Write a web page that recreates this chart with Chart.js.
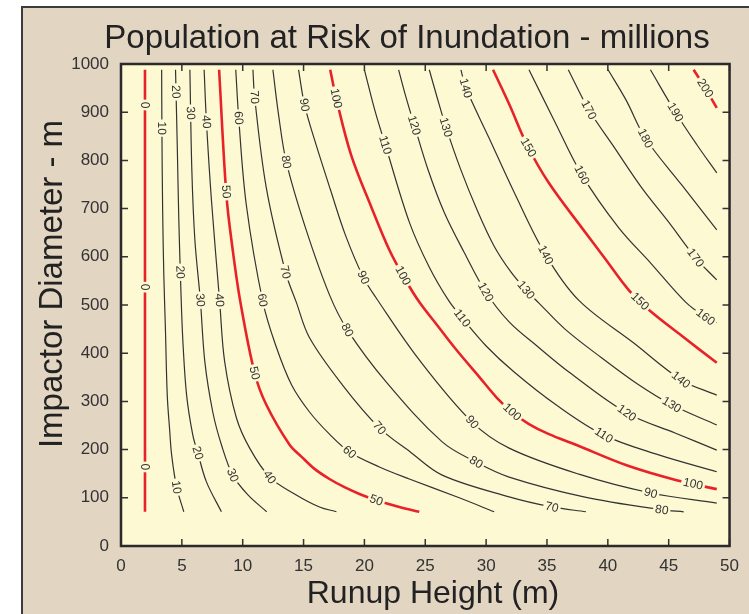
<!DOCTYPE html>
<html>
<head>
<meta charset="utf-8">
<title>Population at Risk of Inundation</title>
<script src="https://cdn.jsdelivr.net/npm/chart.js@4.4.1/dist/chart.umd.min.js"></script>
<style>
  html, body { margin: 0; padding: 0; background: #fff; overflow: hidden; }
  #frame { position: absolute; left: 21px; top: 6px; width: 760px; height: 640px;
           background: #e2d5c2; border-left: 2px solid #3c3c3c; border-top: 2px solid #3c3c3c; }
  #chart { position: absolute; left: 0; top: 0; }
</style>
</head>
<body>
<div id="frame"></div>
<canvas id="chart" width="749" height="614"></canvas>
<script>
  // contour levels, millions of people
  const levels = [0, 10, 20, 30, 40, 50, 60, 70, 80, 90, 100, 110, 120, 130, 140, 150, 160, 170, 180, 190, 200];

  // each contour as [runup height m, impactor diameter m]
  const line0 = [[1.97, 988], [1.97, 71]];
  const line10 = [[3.34, 988], [3.36, 870], [3.42, 700], [3.52, 560], [3.65, 450], [3.80, 313], [4.0, 240], [4.16, 189], [4.57, 122], [5.16, 71]];
  const line20 = [[4.48, 988], [4.63, 822], [4.75, 677], [4.92, 531], [5.08, 427], [5.39, 313], [5.90, 230], [6.31, 193], [7.02, 133], [8.25, 71]];
  const line30 = [[5.66, 988], [5.82, 780], [6.07, 635], [6.52, 510], [6.89, 382], [7.54, 278], [8.25, 210], [9.18, 147], [10.43, 106], [11.97, 71]];
  const line40 = [[6.83, 988], [7.02, 880], [7.43, 718], [8.11, 506], [8.52, 382], [9.48, 266], [10.57, 203], [12.21, 143], [14.40, 106], [16.31, 81], [17.70, 71]];
  const line50 = [[8.06, 988], [8.66, 728], [9.18, 614], [9.81, 506], [10.98, 359], [11.94, 293], [13.85, 210], [14.84, 185], [15.90, 160], [17.13, 139], [18.36, 122], [19.59, 108], [20.98, 95], [22.87, 81], [24.51, 71]];
  const line60 = [[9.43, 988], [9.67, 888], [10.30, 707], [11.66, 506], [12.70, 417], [14.02, 334], [15.49, 278], [17.13, 232], [18.77, 195], [21.23, 164], [23.69, 139], [27.79, 100], [30.66, 71]];
  const line70 = [[10.84, 988], [10.98, 931], [11.94, 743], [13.52, 568], [14.40, 506], [15.49, 432], [18.20, 334], [21.23, 245], [23.77, 195], [26.39, 147], [31.89, 102], [35.41, 81], [38.20, 71]];
  const line80 = [[12.48, 988], [12.95, 894], [13.58, 797], [15.16, 660], [17.13, 521], [18.61, 448], [21.80, 340], [26.39, 216], [29.18, 174], [31.89, 143], [38.03, 102], [44.43, 75], [46.23, 71]];
  const line90 = [[14.59, 988], [15.08, 915], [15.90, 843], [17.21, 739], [18.44, 645], [19.92, 557], [20.98, 514], [24.51, 386], [28.85, 257], [31.89, 203], [37.62, 149], [43.52, 110], [48.95, 89]];
  const line100 = [[17.19, 988], [17.68, 929], [18.91, 811], [20.57, 703], [22.05, 614], [23.28, 556], [24.51, 506], [25.98, 458], [27.62, 405], [29.43, 351], [30.90, 307], [32.13, 278], [33.52, 253], [35.16, 232], [37.38, 210], [41.48, 168], [45.57, 137], [48.95, 118]];
  const line110 = [[20.0, 988], [20.9, 900], [21.72, 832], [23.69, 672], [25.3, 580], [26.9, 510], [28.03, 473], [30.0, 415], [32.3, 361], [35.74, 293], [39.67, 230], [44.18, 189], [48.95, 154]];
  const line120 = [[22.81, 988], [23.36, 936], [24.10, 873], [25.25, 779], [26.56, 692], [28.2, 609], [29.97, 527], [31.89, 465], [34.18, 415], [36.8, 361], [41.56, 276], [45.57, 234], [48.95, 199]];
  const line130 = [[25.33, 988], [25.98, 930], [26.70, 869], [27.87, 784], [29.26, 697], [30.66, 622], [32.05, 568], [33.28, 531], [34.34, 504], [36.48, 450], [39.51, 390], [42.5, 335], [45.25, 293], [48.95, 251]];
  const line140 = [[27.93, 988], [28.34, 950], [30.25, 846], [32.30, 734], [34.89, 604], [37.60, 510], [42.13, 421], [46.07, 344], [48.95, 313]];
  const line150 = [[30.57, 988], [31.89, 917], [33.36, 832], [35.16, 753], [37.87, 660], [39.75, 597], [41.72, 531], [43.36, 490], [46.07, 436], [48.95, 380]];
  const line160 = [[33.52, 988], [35.57, 884], [37.87, 770], [40.90, 660], [43.52, 587], [46.39, 506], [48.03, 475], [48.95, 463]];
  const line170 = [[36.75, 988], [38.44, 905], [40.5, 828], [42.79, 743], [45.0, 672], [47.21, 598], [48.95, 552]];
  const line180 = [[40.02, 988], [41.5, 925], [43.09, 846], [46.07, 749], [48.95, 656]];
  const line190 = [[43.5, 988], [45.55, 900], [47.3, 833], [48.95, 774]];
  const line200 = [[47.05, 988], [48.0, 950], [48.95, 909]];

  const contours = [line0, line10, line20, line30, line40, line50, line60, line70, line80, line90, line100,
                    line110, line120, line130, line140, line150, line160, line170, line180, line190, line200];

  // where the inline level labels sit: [level, x, y]
  const labelSpots = [
    [0, 1.97, 915], [0, 1.97, 537], [0, 1.97, 164],
    [10, 3.34, 867], [10, 4.57, 122],
    [20, 4.48, 942], [20, 4.89, 568], [20, 6.31, 193],
    [30, 5.66, 898], [30, 6.5, 510], [30, 9.18, 147],
    [40, 7.02, 880], [40, 8.11, 510], [40, 12.21, 143],
    [50, 8.62, 735], [50, 10.98, 359], [50, 20.98, 95],
    [60, 9.67, 888], [60, 11.64, 510], [60, 18.77, 195],
    [70, 10.98, 931], [70, 13.52, 568], [70, 21.23, 245], [70, 35.41, 81],
    [80, 13.58, 797], [80, 18.61, 448], [80, 29.18, 174], [80, 44.43, 75],
    [90, 15.08, 915], [90, 19.92, 557], [90, 28.85, 257], [90, 43.52, 110],
    [100, 17.68, 929], [100, 23.1, 560], [100, 32.13, 278], [100, 47.0, 128],
    [110, 21.72, 832], [110, 28.03, 473], [110, 39.67, 230],
    [120, 24.10, 873], [120, 29.97, 527], [120, 41.56, 276],
    [130, 26.70, 869], [130, 33.28, 531], [130, 45.25, 293],
    [140, 28.34, 950], [140, 34.89, 604], [140, 45.98, 344],
    [150, 33.36, 825], [150, 42.54, 505],
    [160, 37.87, 770], [160, 48.03, 475],
    [170, 38.44, 905], [170, 47.21, 598],
    [180, 43.09, 846],
    [190, 45.55, 900],
    [200, 48.0, 950]
  ];

  const xTicks = [0, 5, 10, 15, 20, 25, 30, 35, 40, 45, 50];
  const yTicks = [0, 100, 200, 300, 400, 500, 600, 700, 800, 900, 1000];

  const RED = "#e8222b";
  const INK = "#333333";
  const PAPER = "#fdf9d3";
  const FONT = "'Liberation Sans', Arial, Helvetica, sans-serif";

  Chart.defaults.font.family = FONT;

  function $(id) {
    return document.getElementById(id);
  }

  // yellow plot area
  const plotPaper = {
    id: "plotPaper",
    beforeDraw(chart) {
      let a = chart.chartArea;
      let ctx = chart.ctx;
      ctx.save();
      ctx.fillStyle = PAPER;
      ctx.fillRect(a.left, a.top, a.right - a.left, a.bottom - a.top);
      ctx.restore();
    }
  };

  // level numbers written along the lines, with a gap cut under them
  const contourLabels = {
    id: "contourLabels",
    afterDatasetsDraw(chart) {
      let ctx = chart.ctx;
      let xs = chart.scales.x;
      let ys = chart.scales.y;
      ctx.save();
      ctx.font = "12px " + FONT;
      ctx.textAlign = "center";
      ctx.textBaseline = "middle";
      for (let k = 0; k < labelSpots.length; k++) {
        let v = labelSpots[k][0];
        let pts = chart.getDatasetMeta(levels.indexOf(v)).data;
        let px = xs.getPixelForValue(labelSpots[k][1]);
        let py = ys.getPixelForValue(labelSpots[k][2]);
        let best = null;
        for (let i = 0; i < pts.length - 1; i++) {
          let a = pts[i], b = pts[i + 1];
          let dx = b.x - a.x, dy = b.y - a.y;
          let len2 = dx * dx + dy * dy;
          let t = len2 ? ((px - a.x) * dx + (py - a.y) * dy) / len2 : 0;
          t = Math.max(0, Math.min(1, t));
          let qx = a.x + t * dx, qy = a.y + t * dy;
          let d = (qx - px) * (qx - px) + (qy - py) * (qy - py);
          if (!best || d < best.d) {
            best = {d: d, x: qx, y: qy, ang: Math.atan2(dy, dx)};
          }
        }
        let ang = best.ang;
        if (ang > Math.PI / 2) ang -= Math.PI;
        if (ang < -Math.PI / 2) ang += Math.PI;
        let txt = String(v);
        let w = ctx.measureText(txt).width;
        ctx.save();
        ctx.translate(best.x, best.y);
        ctx.rotate(ang);
        ctx.fillStyle = PAPER;
        ctx.fillRect(-w / 2 - 2, -5, w + 4, 10);
        ctx.fillStyle = INK;
        ctx.fillText(txt, 0, 0.5);
        ctx.restore();
      }
      ctx.restore();
    }
  };

  // frame, inward ticks on all four sides, title and axis titles
  const frameAndTitle = {
    id: "frameAndTitle",
    afterDraw(chart) {
      let ctx = chart.ctx;
      let a = chart.chartArea;
      let xs = chart.scales.x;
      let ys = chart.scales.y;
      ctx.save();
      ctx.strokeStyle = INK;
      ctx.lineWidth = 1.5;
      ctx.beginPath();
      for (let i = 0; i < xTicks.length; i++) {
        let x = xs.getPixelForValue(xTicks[i]);
        ctx.moveTo(x, a.bottom);
        ctx.lineTo(x, a.bottom - 7);
        ctx.moveTo(x, a.top);
        ctx.lineTo(x, a.top + 7);
      }
      for (let i = 0; i < yTicks.length; i++) {
        let y = ys.getPixelForValue(yTicks[i]);
        ctx.moveTo(a.left, y);
        ctx.lineTo(a.left + 7, y);
        ctx.moveTo(a.right, y);
        ctx.lineTo(a.right - 7, y);
      }
      ctx.stroke();
      ctx.strokeStyle = "#2a2a2a";
      ctx.lineWidth = 2.5;
      ctx.strokeRect(a.left, a.top, a.right - a.left, a.bottom - a.top);

      ctx.fillStyle = "#222";
      ctx.textAlign = "center";
      ctx.textBaseline = "alphabetic";
      ctx.font = "33px " + FONT;
      ctx.fillText("Population at Risk of Inundation - millions", 407, 48);
      ctx.font = "32px " + FONT;
      ctx.fillText("Runup Height (m)", 433, 603);
      ctx.translate(62, 284);
      ctx.rotate(-Math.PI / 2);
      ctx.font = "33px " + FONT;
      ctx.fillText("Impactor Diameter - m", 0, 0);
      ctx.restore();
    }
  };

  function main() {
    let datasets = [];
    for (let i = 0; i < levels.length; i++) {
      let major = levels[i] % 50 === 0;
      datasets.push({
        label: String(levels[i]),
        data: contours[i].map(function(p) { return {x: p[0], y: p[1]}; }),
        borderColor: major ? RED : INK,
        borderWidth: major ? 2.6 : 1.2,
        pointRadius: 0,
        tension: 0.35,
        fill: false
      });
    }

    new Chart($("chart"), {
      type: "line",
      data: {datasets: datasets},
      options: {
        responsive: false,
        animation: false,
        events: [],
        layout: {padding: {left: 0, right: 18, top: 64, bottom: 0}},
        plugins: {
          legend: {display: false},
          tooltip: {enabled: false},
          title: {display: false}
        },
        scales: {
          x: {
            type: "linear",
            min: 0,
            max: 50,
            afterBuildTicks: function(s) { s.ticks = xTicks.map(function(v) { return {value: v}; }); },
            afterFit: function(s) { s.height = 68; },
            grid: {display: false, drawTicks: false},
            border: {display: false},
            ticks: {padding: 10, color: INK, font: {size: 17}, maxRotation: 0, autoSkip: false,
                    callback: function(v) { return String(v); }}
          },
          y: {
            type: "linear",
            min: 0,
            max: 1000,
            afterBuildTicks: function(s) { s.ticks = yTicks.map(function(v) { return {value: v}; }); },
            afterFit: function(s) { s.width = 121; },
            grid: {display: false, drawTicks: false},
            border: {display: false},
            ticks: {padding: 12, color: INK, font: {size: 17}, autoSkip: false,
                    callback: function(v) { return String(v); }}
          }
        }
      },
      plugins: [plotPaper, contourLabels, frameAndTitle]
    });
  }

  window.addEventListener("load", main);
</script>
</body>
</html>
